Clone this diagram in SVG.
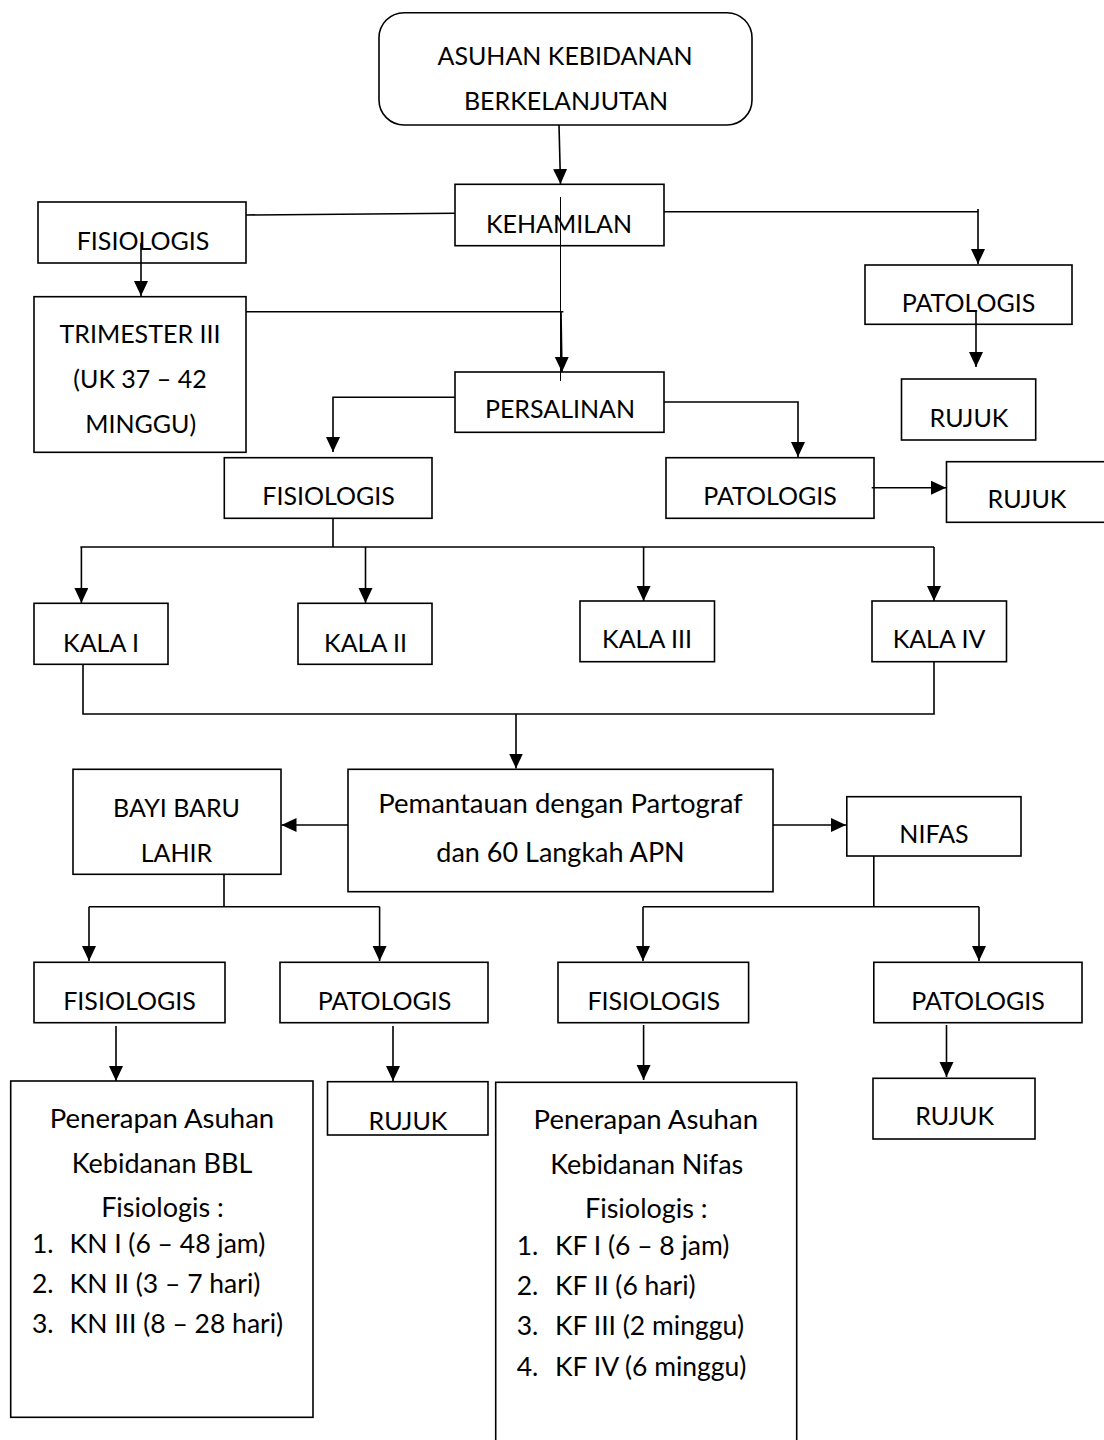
<svg xmlns="http://www.w3.org/2000/svg" width="1104" height="1440" viewBox="0 0 1104 1440">
<style>
.b{fill:#fff;stroke:#000;stroke-width:1.6}
.t{font-family:Lato,"Liberation Sans",sans-serif;font-size:25px;fill:#000;text-anchor:middle}
.m{font-family:Lato,"Liberation Sans",sans-serif;font-size:27px;fill:#000;text-anchor:middle}
.l{font-family:Lato,"Liberation Sans",sans-serif;font-size:26.5px;fill:#000}
.c{fill:none;stroke:#000;stroke-width:1.6}
.a{fill:none;stroke:#000;stroke-width:1.6;marker-end:url(#ah)}
.thin{fill:none;stroke:#000;stroke-width:1}
</style>
<defs>
<marker id="ah" markerUnits="userSpaceOnUse" markerWidth="16" markerHeight="16" refX="15" refY="7" orient="auto">
<path d="M0,0 L15,7 L0,14 z" fill="#000"/>
</marker>
</defs>
<rect width="1104" height="1440" fill="#fff"/>

<g id="n-top"><rect class="b" x="379" y="12.7" width="373" height="112.3" rx="25"/>
<text class="t" x="565" y="65">ASUHAN KEBIDANAN</text><text class="t" x="566" y="110">BERKELANJUTAN</text></g>
<g id="n-kehamilan"><rect class="b" x="455" y="184.3" width="209" height="61.4"/><text class="t" x="559" y="233">KEHAMILAN</text></g>
<g id="n-fis1"><rect class="b" x="38" y="202" width="208" height="61"/><text class="t" x="143" y="250">FISIOLOGIS</text></g>
<g id="n-pat1"><rect class="b" x="865" y="265" width="207" height="59.3"/><text class="t" x="968.5" y="311.7">PATOLOGIS</text></g>
<g id="n-trimester"><rect class="b" x="34" y="296.7" width="212" height="155.6"/>
<text class="t" x="140" y="343.3">TRIMESTER III</text><text class="t" x="140" y="388.3">(UK 37 – 42</text><text class="t" x="140.7" y="433.3">MINGGU)</text></g>
<g id="n-persalinan"><rect class="b" x="455" y="372" width="209" height="60.3"/><text class="t" x="560" y="418.3">PERSALINAN</text></g>
<g id="n-rujuk1"><rect class="b" x="901.5" y="379" width="134.2" height="61"/><text class="t" x="969" y="426.7">RUJUK</text></g>
<g id="n-fis2"><rect class="b" x="224.3" y="457.7" width="207.7" height="60.6"/><text class="t" x="328.6" y="505">FISIOLOGIS</text></g>
<g id="n-pat2"><rect class="b" x="666" y="457.7" width="208" height="60.6"/><text class="t" x="770" y="505">PATOLOGIS</text></g>
<g id="n-rujuk2"><rect class="b" x="946.5" y="461.7" width="170" height="60.6"/><text class="t" x="1027" y="508.3">RUJUK</text></g>
<g id="n-kala1"><rect class="b" x="34" y="603.3" width="134" height="61"/><text class="t" x="101" y="651.7">KALA I</text></g>
<g id="n-kala2"><rect class="b" x="298" y="603.3" width="134" height="61"/><text class="t" x="365.5" y="651.7">KALA II</text></g>
<g id="n-kala3"><rect class="b" x="580" y="601" width="134.5" height="60.7"/><text class="t" x="647" y="648.3">KALA III</text></g>
<g id="n-kala4"><rect class="b" x="872" y="601" width="134.5" height="60.7"/><text class="t" x="939" y="648.3">KALA IV</text></g>
<g id="n-bayi"><rect class="b" x="73" y="769.3" width="208" height="105"/><text class="t" x="176.5" y="816.7">BAYI BARU</text><text class="t" x="176.5" y="861.7">LAHIR</text></g>
<g id="n-pemantauan"><rect class="b" x="348" y="769.3" width="425" height="122.4"/><text class="m" x="560.5" y="813.3" style="font-size:27.5px">Pemantauan dengan Partograf</text><text class="m" x="560.5" y="861.7">dan 60 Langkah APN</text></g>
<g id="n-nifas"><rect class="b" x="846.8" y="796.7" width="174.2" height="59.3"/><text class="t" x="934" y="843.3">NIFAS</text></g>
<g id="n-fis3"><rect class="b" x="34" y="962.3" width="191" height="60.4"/><text class="t" x="129.5" y="1010">FISIOLOGIS</text></g>
<g id="n-pat3"><rect class="b" x="280" y="962.3" width="208" height="60.4"/><text class="t" x="384.5" y="1010">PATOLOGIS</text></g>
<g id="n-fis4"><rect class="b" x="558" y="962.3" width="190.6" height="60.4"/><text class="t" x="653.7" y="1010">FISIOLOGIS</text></g>
<g id="n-pat4"><rect class="b" x="873.8" y="962.3" width="208.2" height="60.4"/><text class="t" x="978" y="1010">PATOLOGIS</text></g>
<g id="n-bbl"><rect class="b" x="10.7" y="1081" width="302.3" height="336.3"/>
<text class="m" x="162" y="1128.3" style="font-size:27.5px">Penerapan Asuhan</text><text class="m" x="162" y="1173.3">Kebidanan BBL</text><text class="m" x="162.5" y="1217.3">Fisiologis :</text>
<text class="l" x="32" y="1253.3">1.</text><text class="l" x="69.6" y="1253.3">KN I (6 – 48 jam)</text>
<text class="l" x="32" y="1293.3">2.</text><text class="l" x="69.6" y="1293.3">KN II (3 – 7 hari)</text>
<text class="l" x="32" y="1333.3">3.</text><text class="l" x="69.6" y="1333.3">KN III (8 – 28 hari)</text></g>
<g id="n-rujuk3"><rect class="b" x="327.5" y="1081.7" width="160.5" height="53.3"/><text class="t" x="408" y="1130">RUJUK</text></g>
<g id="n-nifasbox"><rect class="b" x="495.7" y="1082.3" width="301" height="370"/>
<text class="m" x="645.8" y="1129.3" style="font-size:27.5px">Penerapan Asuhan</text><text class="m" x="646.7" y="1174">Kebidanan Nifas</text><text class="m" x="646.3" y="1218.3">Fisiologis :</text>
<text class="l" x="516.7" y="1255">1.</text><text class="l" x="555" y="1255">KF I (6 – 8 jam)</text>
<text class="l" x="516.7" y="1295">2.</text><text class="l" x="555" y="1295">KF II (6 hari)</text>
<text class="l" x="516.7" y="1335">3.</text><text class="l" x="555" y="1335">KF III (2 minggu)</text>
<text class="l" x="516.7" y="1376">4.</text><text class="l" x="555" y="1376">KF IV (6 minggu)</text></g>
<g id="n-rujuk4"><rect class="b" x="873" y="1078.3" width="162" height="60.7"/><text class="t" x="954.7" y="1125">RUJUK</text></g>

<g id="connectors">
<path class="a" d="M559,125 L560.5,184"/>
<path class="c" d="M246,215 L455,213.3"/>
<path class="c" d="M664,211.7 H978"/>
<path class="a" d="M978,209 V264"/>
<path class="a" d="M141,243 V296"/>
<path class="thin" d="M560.5,197 V381"/>
<path class="c" d="M246,311.7 H563.4"/>
<path class="a" d="M561,312 L562,372"/>
<path class="a" d="M976,311.7 V367"/>
<path class="a" d="M455,397.3 H333 V452"/>
<path class="a" d="M664,402 H798 V457"/>
<path class="a" d="M871.7,487.7 H946"/>
<path class="c" d="M333,518.3 V547 M80.4,547 H934"/>
<path class="a" d="M81.4,547 V603"/>
<path class="a" d="M365.5,547 V603"/>
<path class="a" d="M643.6,547 V601"/>
<path class="a" d="M934,547 V601"/>
<path class="c" d="M83,664.3 V714 H934 V662"/>
<path class="a" d="M516,714 V768.5"/>
<path class="a" d="M348,825 H281.5"/>
<path class="a" d="M773,825 H846"/>
<path class="c" d="M224,874.3 V906.7 M89,906.7 H379.6"/>
<path class="a" d="M89,906.7 V961"/>
<path class="a" d="M379.6,906.7 V961"/>
<path class="a" d="M116,1026 V1081"/>
<path class="a" d="M393,1026 V1081"/>
<path class="c" d="M873.8,856 V906.7 M643,906.7 H979"/>
<path class="a" d="M643,906.7 V961"/>
<path class="a" d="M979,906.7 V961"/>
<path class="a" d="M643.6,1025 V1080"/>
<path class="a" d="M946.5,1025 V1077"/>
</g>
</svg>
